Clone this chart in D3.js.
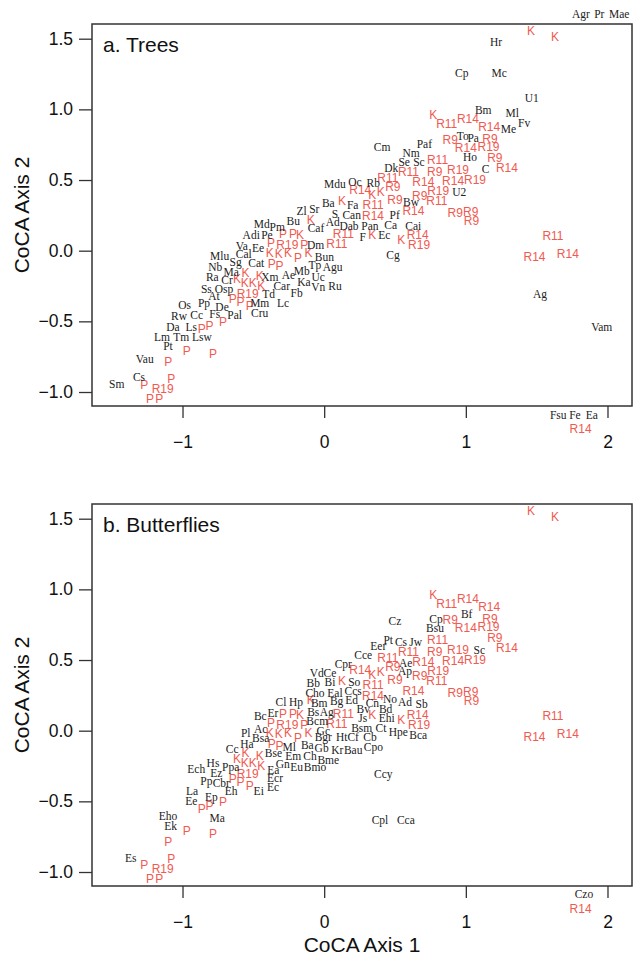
<!DOCTYPE html>
<html><head><meta charset="utf-8">
<script src="https://cdn.jsdelivr.net/npm/d3@7/dist/d3.min.js"></script>
<style>body{margin:0;background:#fff}svg{display:block}</style>
</head><body>
<svg id="c" width="637" height="960"></svg>
<script>
// ---------- data ----------
const xTicks = [-1, 0, 1, 2];
const yTicks = [-1, -0.5, 0, 0.5, 1, 1.5];

// sample (site) scores – shared by both panels
const siteLabels = ["P","R19","P","P","P","P","P","P","P","P","P","P","P","P","R19","K","K","K","K","K","K","P","P","K","K","K","P","K","P","R19","P","P","P","K","K","R11","R11","K","K","R14","K","K","R11","R14","R9","R9","R11","R11","R14","R9","R14","K","R14","R19","R11","R9","R19","R11","R19","R14","R9","R9","R9","R19","R9","R14","R9","R19","R9","R14","K","R11","R14","R14","K","K","R11","R14","R14","R14"];
const siteX = [-1.27,-1.14,-1.08,-1.23,-1.165,-1.10,-0.97,-0.785,-0.865,-0.81,-0.715,-0.645,-0.59,-0.525,-0.54,-0.615,-0.56,-0.505,-0.445,-0.555,-0.455,-0.37,-0.315,-0.385,-0.32,-0.255,-0.185,-0.11,-0.375,-0.26,-0.14,-0.29,-0.22,-0.17,-0.095,0.09,0.135,0.34,0.125,0.255,0.34,0.40,0.345,0.345,0.485,0.50,0.45,0.595,0.70,0.675,0.63,0.545,0.66,0.67,0.80,0.78,0.805,0.795,0.945,0.91,0.925,1.035,1.04,1.065,0.89,1.00,1.17,1.16,1.205,1.29,0.77,0.865,1.015,1.165,1.46,1.63,1.615,1.485,1.72,1.81];
const siteY = [-0.95,-0.975,-0.91,-1.045,-1.05,-0.785,-0.71,-0.73,-0.55,-0.535,-0.505,-0.34,-0.365,-0.39,-0.305,-0.20,-0.23,-0.23,-0.25,-0.16,-0.175,-0.09,-0.11,-0.015,-0.02,-0.015,-0.05,-0.015,0.055,0.04,0.04,0.12,0.12,0.115,0.215,0.05,0.12,0.115,0.35,0.43,0.395,0.415,0.325,0.25,0.45,0.36,0.515,0.56,0.49,0.39,0.28,0.075,0.11,0.04,0.64,0.56,0.425,0.355,0.57,0.495,0.27,0.275,0.21,0.505,0.785,0.73,0.795,0.735,0.66,0.59,0.965,0.895,0.935,0.88,1.555,1.51,0.105,-0.04,-0.02,-1.26];

// tree species scores (panel a)
const treeLabels = ["Sm","Cs","Vau","Pt","Lm","Tm","Lsw","Da","Ls","Rw","Cc","Fs","Pal","Os","Pp","De","Mm","Lc","Cru","Ss","At","Osp","Td","Ra","Cr","Ma","Xm","Nb","Sg","Cat","Mlu","Cal","Va","Ee","Adi","Pe","Md","Pm","Bu","Zl","Sr","Caf","Dm","Bun","Tp","Agu","Ae","Mb","Uc","Car","Ka","Vn","Ru","Fb","Ba","S","Ad","Mdu","Oc","Rb","Fa","Can","Dab","Pan","F","Ec","Ca","Pf","Cai","Cg","Bw","Dk","Se","Sc","Nm","Cm","Paf","To","Pa","Ho","C","U2","Bm","Me","Ml","Fv","U1","Cp","Mc","Hr","Ag","Vam","Fsu","Fe","Ea","Agr","Pr","Mae"];
const treeX = [-1.464,-1.307,-1.267,-1.103,-1.145,-1.009,-0.863,-1.067,-0.938,-1.025,-0.900,-0.773,-0.632,-0.985,-0.848,-0.721,-0.455,-0.291,-0.455,-0.832,-0.778,-0.707,-0.392,-0.790,-0.686,-0.656,-0.383,-0.769,-0.625,-0.479,-0.738,-0.568,-0.582,-0.467,-0.515,-0.404,-0.440,-0.331,-0.218,-0.159,-0.070,-0.058,-0.060,0.001,-0.065,0.060,-0.253,-0.159,-0.042,-0.300,-0.143,-0.042,0.076,-0.194,0.029,0.076,0.060,0.076,0.217,0.347,0.201,0.194,0.175,0.323,0.272,0.424,0.469,0.498,0.629,0.486,0.613,0.474,0.565,0.669,0.613,0.409,0.707,0.978,1.052,1.029,1.140,0.954,1.123,1.300,1.328,1.412,1.465,0.971,1.236,1.213,1.523,1.959,1.652,1.770,1.890,1.813,1.942,2.083];
const treeY = [-0.943,-0.896,-0.766,-0.672,-0.609,-0.609,-0.609,-0.542,-0.542,-0.464,-0.453,-0.448,-0.457,-0.382,-0.370,-0.396,-0.368,-0.368,-0.443,-0.273,-0.318,-0.269,-0.309,-0.186,-0.207,-0.149,-0.184,-0.115,-0.082,-0.089,-0.038,-0.025,0.033,0.017,0.109,0.113,0.191,0.166,0.212,0.281,0.293,0.159,0.042,-0.042,-0.103,-0.113,-0.172,-0.146,-0.184,-0.250,-0.219,-0.255,-0.248,-0.301,0.338,0.260,0.201,0.470,0.484,0.479,0.326,0.253,0.177,0.175,0.095,0.113,0.180,0.254,0.175,-0.030,0.347,0.587,0.630,0.626,0.689,0.736,0.755,0.814,0.795,0.661,0.578,0.415,0.994,0.858,0.972,0.906,1.079,1.260,1.260,1.475,-0.309,-0.538,-1.165,-1.165,-1.165,1.673,1.673,1.673];

// butterfly species scores (panel b)
const butterflyLabels = ["Es","Eho","Ek","Ma","La","Ee","Ep","Ech","Hs","Ppa","Ez","Pp","Cbr","Eh","Ei","Ec","Ecr","Ea","Cc","Ha","Bse","Gn","Eu","Bmo","Em","Ch","Bme","Ml","Ba","Gb","Kr","Bau","Cpo","Pl","Bsa","Ac","Bc","Er","Cl","Hp","Bm","Bs","Ag","Bcm","Gc","Bgr","Ht","Cf","Cb","Bsm","Ct","Js","Ehi","Bv","Bd","Cn","No","Ad","Sb","Hpe","Bca","Bg","Ed","Cho","Eal","Ccs","Bb","Bi","So","Vd","Ce","Cpr","Cce","Eer","Pt","Cs","Jw","Ae","Ap","Cz","Cp","Bsu","Bf","Sc","Ccy","Cpl","Cca","Czo"];
const butterflyX = [-1.366,-1.103,-1.084,-0.755,-0.933,-0.938,-0.797,-0.903,-0.785,-0.660,-0.762,-0.832,-0.726,-0.656,-0.462,-0.361,-0.347,-0.359,-0.649,-0.545,-0.358,-0.293,-0.194,-0.065,-0.218,-0.100,0.029,-0.246,-0.119,-0.018,0.092,0.205,0.347,-0.554,-0.448,-0.448,-0.451,-0.361,-0.305,-0.199,-0.035,-0.077,0.018,-0.049,-0.006,-0.006,0.124,0.205,0.323,0.265,0.401,0.272,0.441,0.276,0.434,0.340,0.464,0.570,0.688,0.523,0.664,0.088,0.194,-0.065,0.076,0.205,-0.077,0.041,0.212,-0.053,0.041,0.135,0.276,0.382,0.452,0.542,0.646,0.575,0.570,0.500,0.789,0.782,1.006,1.095,0.417,0.394,0.577,1.834];
const butterflyY = [-0.901,-0.602,-0.672,-0.620,-0.425,-0.495,-0.471,-0.273,-0.231,-0.255,-0.301,-0.356,-0.368,-0.425,-0.425,-0.398,-0.337,-0.276,-0.130,-0.096,-0.160,-0.236,-0.255,-0.255,-0.177,-0.179,-0.207,-0.113,-0.101,-0.125,-0.137,-0.137,-0.113,-0.014,-0.054,0.010,0.104,0.123,0.205,0.205,0.198,0.130,0.130,0.069,-0.002,-0.047,-0.047,-0.047,-0.042,0.017,0.021,0.088,0.088,0.151,0.154,0.198,0.224,0.205,0.189,-0.007,-0.030,0.210,0.217,0.265,0.269,0.283,0.335,0.347,0.347,0.406,0.410,0.472,0.536,0.599,0.644,0.630,0.630,0.481,0.423,0.776,0.788,0.725,0.826,0.571,-0.309,-0.632,-0.632,-1.156];

// ---------- drawing ----------
const svg = d3.select("#c");
const RED = "#F05A50", INK = "#333";
const SANS = "'Liberation Sans', Arial, Helvetica, sans-serif";
const SERIF = "'Liberation Serif', 'Times New Roman', serif";
const left = 92, right = 632, ph = 382;
const x = d3.scaleLinear().domain([-1.639, 2.173]).range([left, right]);

const panels = [
  {title: "a. Trees", top: 24, labels: treeLabels, xs: treeX, ys: treeY},
  {title: "b. Butterflies", top: 504, labels: butterflyLabels, xs: butterflyX, ys: butterflyY}
];

panels.forEach(p => {
  const y = d3.scaleLinear().domain([-1.099, 1.604]).range([p.top + ph, p.top]);
  const g = svg.append("g");

  // box
  g.append("rect").attr("x", left).attr("y", p.top)
    .attr("width", right - left).attr("height", ph)
    .attr("fill", "none").attr("stroke", INK).attr("stroke-width", 1.5);

  // axes
  const ya = g.append("g").attr("transform", `translate(${left},0)`)
    .call(d3.axisLeft(y).tickValues(yTicks).tickSize(13).tickPadding(6).tickFormat(d3.format(".1f")));
  const xa = g.append("g").attr("transform", `translate(0,${p.top + ph})`)
    .call(d3.axisBottom(x).tickValues(xTicks).tickSize(12).tickPadding(18).tickFormat(d3.format("d")));
  [ya, xa].forEach(a => {
    a.select(".domain").remove();
    a.selectAll("line").attr("stroke", INK).attr("stroke-width", 1.3);
    a.selectAll("text").attr("font-family", SANS).attr("font-size", 17.5).attr("fill", "#111");
  });

  // y axis title
  g.append("text").attr("transform", `translate(22,${p.top + ph / 2}) rotate(-90)`)
    .attr("text-anchor", "middle").attr("dy", "0.35em")
    .attr("font-family", SANS).attr("font-size", 21).attr("fill", "#111")
    .text("CoCA Axis 2");

  // panel title
  g.append("text").attr("x", 103).attr("y", p.top + 28)
    .attr("font-family", SANS).attr("font-size", 21).attr("fill", "#111")
    .text(p.title);

  // site labels
  g.append("g").selectAll("text").data(siteLabels).join("text")
    .attr("x", (d, i) => x(siteX[i])).attr("y", (d, i) => y(siteY[i]))
    .attr("text-anchor", "middle").attr("dy", "0.35em")
    .attr("font-family", SANS).attr("font-size", 12).attr("fill", RED)
    .text(d => d);

  // species labels
  g.append("g").selectAll("text").data(p.labels).join("text")
    .attr("x", (d, i) => x(p.xs[i])).attr("y", (d, i) => y(p.ys[i]))
    .attr("text-anchor", "middle").attr("dy", "0.35em")
    .attr("font-family", SERIF).attr("font-size", 11.5).attr("fill", "#222")
    .text(d => d);
});

// x axis title
svg.append("text").attr("x", (left + right) / 2).attr("y", 945)
  .attr("text-anchor", "middle").attr("dy", "0.35em")
  .attr("font-family", SANS).attr("font-size", 21).attr("fill", "#111")
  .text("CoCA Axis 1");
</script>
</body></html>
